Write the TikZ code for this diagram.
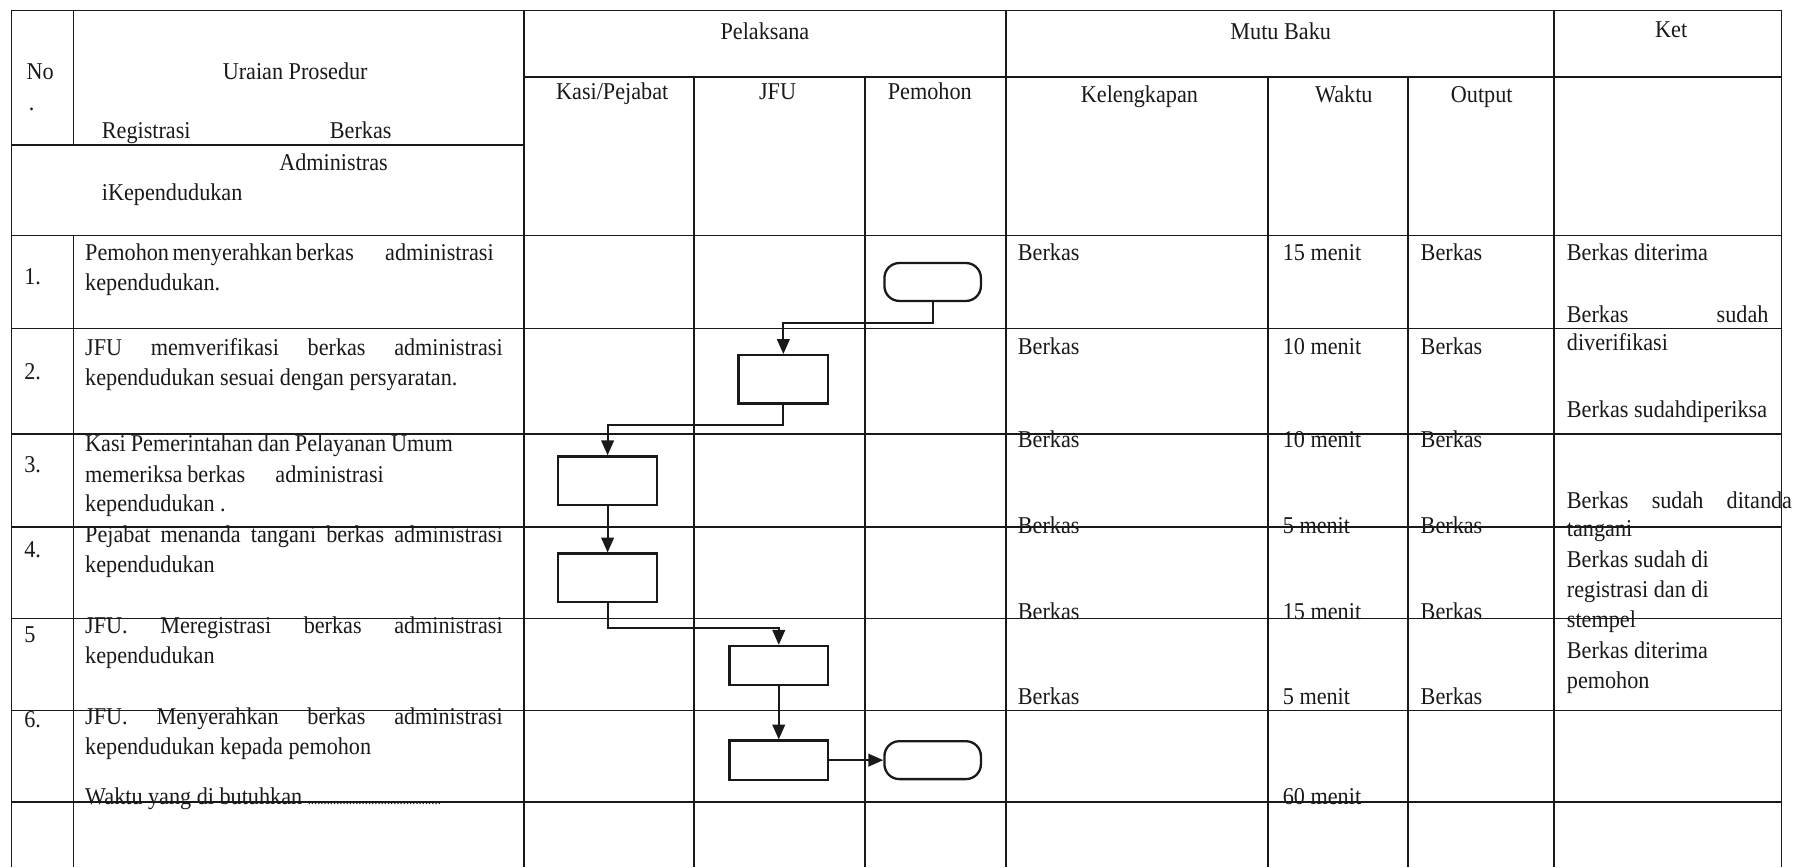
\documentclass[tikz,border=0pt]{standalone}
\usepackage{fontspec}
\setmainfont{Liberation Serif}[FakeStretch=0.92]
\usetikzlibrary{arrows.meta}

\definecolor{ink}{RGB}{25,25,25}

\begin{document}
\begin{tikzpicture}[x=1pt, y=-1pt,
        grid/.style={draw=ink, line width=1.4pt},
        txt/.style={anchor=base west, inner sep=0pt, text=ink, font=\fontsize{21}{26.3}\selectfont},
        ctxt/.style={txt, anchor=base},
        proc/.style={draw=ink, line width=2pt, minimum width=86pt, minimum height=42pt, inner sep=0pt},
        term/.style={proc, rounded corners=13pt, minimum width=84pt, minimum height=33pt},
        flow/.style={draw=ink, line width=1.7pt, -{Triangle[length=13pt, width=11pt]}}]
        \useasboundingbox (0,0) rectangle (1568,755);

        % table rules
        \draw[grid] (10,9) -- (1551,9);
        \draw[grid] (456,67.3) -- (1551,67.3);
        \draw[grid] (10,126.5) -- (456,126.5);
        \draw[grid] (10,205) -- (1551,205);
        \draw[grid] (10,286) -- (1551,286);
        \draw[grid] (10,378) -- (1551,378);
        \draw[grid] (10,459) -- (1551,459);
        \draw[grid] (10,538.5) -- (1551,538.5);
        \draw[grid] (10,618.5) -- (1551,618.5);
        \draw[grid] (10,698) -- (1551,698);

        \draw[grid] (10,9) -- (10,755);
        \draw[grid] (64,9) -- (64,126.5);
        \draw[grid] (64,205) -- (64,755);
        \draw[grid] (456,9) -- (456,755);
        \draw[grid] (604,67.3) -- (604,755);
        \draw[grid] (753,67.3) -- (753,755);
        \draw[grid] (876,9) -- (876,755);
        \draw[grid] (1104,67.3) -- (1104,755);
        \draw[grid] (1226,67.3) -- (1226,755);
        \draw[grid] (1353,9) -- (1353,755);
        \draw[grid] (1551,9) -- (1551,755);

        % header
        \node[ctxt] (hNo) at (35,69) {No};
        \node[txt] (hDot) at (25,96) {.};
        \node[ctxt] (hUraian) at (257,69) {Uraian Prosedur};
        \node[txt] (hReg) at (88.5,121) {Registrasi};
        \node[txt] (hBerkas) at (287,121) {Berkas};
        \node[txt] (hAdm) at (243,148.5) {Administras};
        \node[txt] (hKep) at (88.5,174.5) {iKependudukan};
        \node[ctxt] (hPel) at (666,34) {Pelaksana};
        \node[ctxt] (hKasi) at (533,86.5) {Kasi/Pejabat};
        \node[ctxt] (hJfu) at (677,86.5) {JFU};
        \node[ctxt] (hPem) at (809.5,86.5) {Pemohon};
        \node[ctxt] (hMutu) at (1115,34) {Mutu Baku};
        \node[ctxt] (hKet) at (1455,33) {Ket};
        \node[ctxt] (hKel) at (992,89) {Kelengkapan};
        \node[ctxt] (hWaktu) at (1170,89) {Waktu};
        \node[ctxt] (hOut) at (1290,89) {Output};

        % step numbers
        \node[txt] (n1) at (21,247.5) {1.};
        \node[txt] (n2) at (21,330) {2.};
        \node[txt] (n3) at (21,411.5) {3.};
        \node[txt] (n4) at (21,485.5) {4.};
        \node[txt] (n5) at (21,559.5) {5};
        \node[txt] (n6) at (21,633.5) {6.};

        % procedure text
        \node[txt] (u1a) at (74,226.5) {\makebox[347pt][s]{Pemohon menyerahkan berkas\hspace{24pt} administrasi}};
        \node[txt] (u1b) at (74,253) {kependudukan.};
        \node[txt] (u2a) at (74,309.5) {\makebox[363.5pt][s]{JFU memverifikasi berkas administrasi}};
        \node[txt] (u2b) at (74,336) {kependudukan sesuai dengan persyaratan.};
        \node[txt] (u3a) at (74,393) {\makebox[320pt][s]{Kasi Pemerintahan dan Pelayanan Umum}};
        \node[txt] (u3b) at (74,420) {\makebox[260pt][s]{memeriksa berkas\hspace{22pt} administrasi}};
        \node[txt] (u3c) at (74,445) {kependudukan .};
        \node[txt] (u4a) at (74,472) {\makebox[363.5pt][s]{Pejabat menanda tangani berkas administrasi}};
        \node[txt] (u4b) at (74,498.5) {kependudukan};
        \node[txt] (u5a) at (74,551.5) {\makebox[363.5pt][s]{JFU. Meregistrasi berkas administrasi}};
        \node[txt] (u5b) at (74,577.5) {kependudukan};
        \node[txt] (u6a) at (74,630.5) {\makebox[363.5pt][s]{JFU. Menyerahkan berkas administrasi}};
        \node[txt] (u6b) at (74,656.5) {kependudukan kepada pemohon};
        \node[txt] (u6c) at (74,700) {Waktu yang di butuhkan {\fontsize{12}{14}\selectfont..........................................}};

        % kelengkapan, waktu, output
        \node[txt] (k1) at (886,227) {Berkas};
        \node[txt] (k2) at (886,308.3) {Berkas};
        \node[txt] (k3) at (886,389.5) {Berkas};
        \node[txt] (k4) at (886,464.5) {Berkas};
        \node[txt] (k5) at (886,539) {Berkas};
        \node[txt] (k6) at (886,613) {Berkas};
        \node[txt] (w1) at (1116.7,227) {15 menit};
        \node[txt] (w2) at (1116.7,308.3) {10 menit};
        \node[txt] (w3) at (1116.7,389.5) {10 menit};
        \node[txt] (w4) at (1116.7,464.5) {5 menit};
        \node[txt] (w5) at (1116.7,539) {15 menit};
        \node[txt] (w6) at (1116.7,613) {5 menit};
        \node[txt] (wTot) at (1116.7,700) {60 menit};
        \node[txt] (o1) at (1236.7,227) {Berkas};
        \node[txt] (o2) at (1236.7,308.3) {Berkas};
        \node[txt] (o3) at (1236.7,389.5) {Berkas};
        \node[txt] (o4) at (1236.7,464.5) {Berkas};
        \node[txt] (o5) at (1236.7,539) {Berkas};
        \node[txt] (o6) at (1236.7,613) {Berkas};

        % keterangan
        \node[txt] (ket1) at (1364,227) {Berkas diterima};
        \node[txt] (ket2) at (1364,280.5) {\makebox[175.5pt][s]{Berkas sudah}};
        \node[txt] (ket3) at (1364,305.5) {diverifikasi};
        \node[txt] (ket4) at (1364,363.5) {Berkas sudahdiperiksa};
        \node[txt] (ket5) at (1364,443) {\makebox[196pt][s]{Berkas sudah ditanda}};
        \node[txt] (ket6) at (1364,467) {tangani};
        \node[txt] (ket7) at (1364,494) {Berkas sudah di};
        \node[txt] (ket8) at (1364,520.3) {registrasi dan di};
        \node[txt] (ket9) at (1364,546.6) {stempel};
        \node[txt] (ket10) at (1364,572.9) {Berkas diterima};
        \node[txt] (ket11) at (1364,599.2) {pemohon};

        % flow symbols
        \node[term] (t1) at (812,245.5) {};
        \node[proc, minimum width=78pt] (p2) at (682,330.25) {};
        \node[proc] (p3) at (529,418.4) {};
        \node[proc] (p4) at (529,503) {};
        \node[proc, minimum height=34pt] (p5) at (678,579.4) {};
        \node[proc, minimum height=34pt] (p6) at (678,661.8) {};
        \node[term] (t2) at (812,661.8) {};

        \draw[flow] (t1.south) -- ++(0,18.6) -| (p2.north);
        \draw[flow] (p2.south) -- ++(0,17.5) -| (p3.north);
        \draw[flow] (p3.south) -- (p4.north);
        \draw[flow] (p4.south) -- ++(0,22) -| (p5.north);
        \draw[flow] (p5.south) -- (p6.north);
        \draw[flow] (p6.east) -- (t2.west);
    \end{tikzpicture}
\end{document}
